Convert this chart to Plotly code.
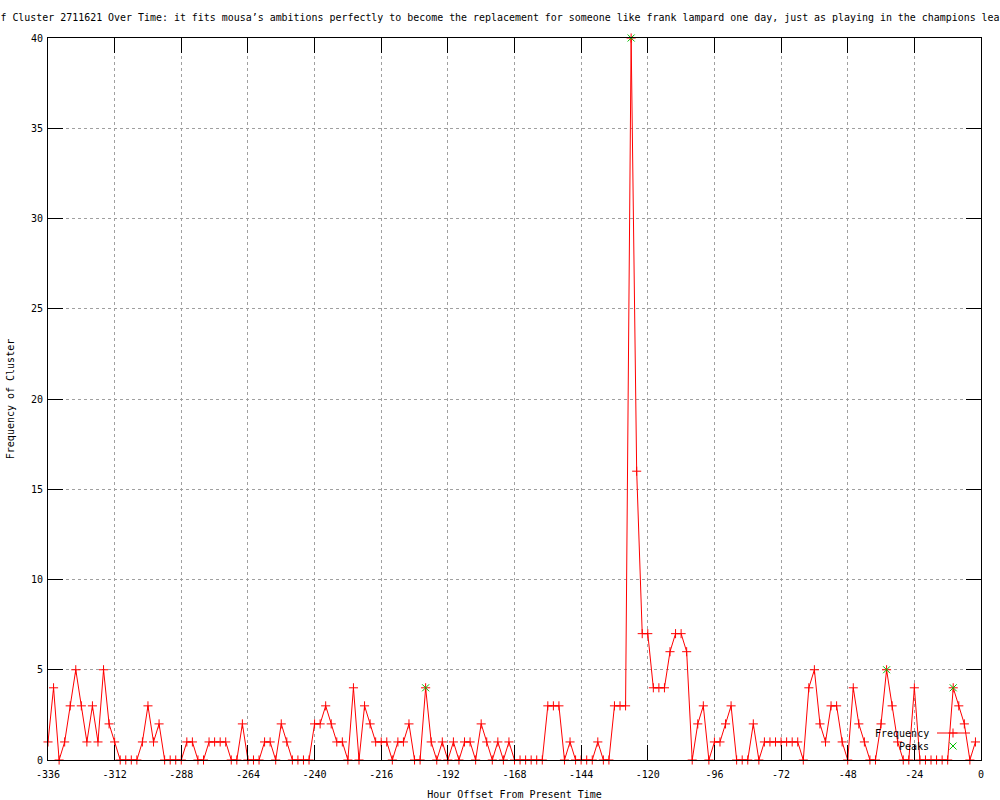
import plotly.graph_objects as go

# ---- data ----
hours = list(range(-336, 0, 2))
frequency = [
    1, 4, 0, 1, 3, 5, 3, 1, 3, 1, 5, 2, 1, 0, 0, 0, 0, 1, 3, 1,   # -336 .. -298
    2, 0, 0, 0, 0, 1, 1, 0, 0, 1, 1, 1, 1, 0, 0, 2, 0, 0, 0, 1,   # -296 .. -258
    1, 0, 2, 1, 0, 0, 0, 0, 2, 2, 3, 2, 1, 1, 0, 4, 0, 3, 2, 1,   # -256 .. -218
    1, 1, 0, 1, 1, 2, 0, 0, 4, 1, 0, 1, 0, 1, 0, 1, 1, 0, 2, 1,   # -216 .. -178
    0, 1, 0, 1, 0, 0, 0, 0, 0, 0, 3, 3, 3, 0, 1, 0, 0, 0, 0, 1,   # -176 .. -138
    0, 0, 3, 3, 3, 40, 16, 7, 7, 4, 4, 4, 6, 7, 7, 6, 0, 2, 3, 0,  # -136 .. -98
    1, 1, 2, 3, 0, 0, 0, 2, 0, 1, 1, 1, 1, 1, 1, 1, 0, 4, 5, 2,   # -96 .. -58
    1, 3, 3, 1, 0, 4, 2, 1, 0, 0, 2, 5, 3, 1, 0, 0, 4, 0, 0, 0,   # -56 .. -18
    0, 0, 0, 4, 3, 2, 0, 1,                                       # -16 .. -2
]
peak_hours = [-200, -126, -34, -10]
peak_values = [4, 40, 5, 4]

x_ticks = list(range(-336, 1, 24))
y_ticks = list(range(0, 41, 5))

title_text = ("f Cluster 2711621 Over Time: it fits mousa\u2019s ambitions perfectly to become "
              "the replacement for someone like frank lampard one day, just as playing in the champions lea")
x_title = "Hour Offset From Present Time"
y_title = "Frequency of Cluster"
legend_names = ["Frequency", "Peaks"]

RED = "#ff0000"
GREEN = "#00c000"
FONT = "DejaVu Sans Mono"

fig = go.Figure()
fig.add_trace(go.Scatter(
    x=hours, y=frequency, mode="lines+markers", name=legend_names[0],
    line=dict(color=RED, width=1),
    marker=dict(symbol="cross-thin", size=6.5, line=dict(color=RED, width=1), color=RED),
    cliponaxis=False, showlegend=False,
))
fig.add_trace(go.Scatter(
    x=peak_hours, y=peak_values, mode="markers", name=legend_names[1],
    marker=dict(symbol="x-thin", size=7, line=dict(color=GREEN, width=1), color=GREEN),
    cliponaxis=False, showlegend=False,
))

L, R, T, B = 48, 19, 38, 40
W, H = 1000, 800
pw, ph = W - L - R, H - T - B


def px(xp):
    return (xp - L) / pw


def py(yp):
    return (H - B - yp) / ph


# legend drawn gnuplot-style (text left of key)
shapes = [
    dict(type="line", xref="paper", yref="paper", x0=px(937), x1=px(970), y0=py(733), y1=py(733),
         line=dict(color=RED, width=1)),
    dict(type="line", xref="paper", yref="paper", x0=px(948.5), x1=px(957.5), y0=py(733), y1=py(733),
         line=dict(color=RED, width=1)),
    dict(type="line", xref="paper", yref="paper", x0=px(953), x1=px(953), y0=py(728.5), y1=py(737.5),
         line=dict(color=RED, width=1)),
    dict(type="line", xref="paper", yref="paper", x0=px(949.5), x1=px(956.5), y0=py(742.5), y1=py(749.5),
         line=dict(color=GREEN, width=1)),
    dict(type="line", xref="paper", yref="paper", x0=px(949.5), x1=px(956.5), y0=py(749.5), y1=py(742.5),
         line=dict(color=GREEN, width=1)),
]
annotations = [
    dict(text=legend_names[0], xref="paper", yref="paper", x=px(931), y=py(733),
         xanchor="right", yanchor="middle", showarrow=False, font=dict(family=FONT, size=10, color="black")),
    dict(text=legend_names[1], xref="paper", yref="paper", x=px(931), y=py(746),
         xanchor="right", yanchor="middle", showarrow=False, font=dict(family=FONT, size=10, color="black")),
]

axis_common = dict(
    showline=True, linecolor="black", linewidth=1, mirror="ticks",
    ticks="inside", ticklen=15, tickcolor="black", tickwidth=1,
    showgrid=True, gridcolor="#a0a0a0", griddash="dot", gridwidth=1,
    zeroline=False, automargin=False,
    tickfont=dict(family=FONT, size=10, color="black"),
)

fig.update_layout(
    width=W, height=H,
    margin=dict(l=L, r=R, t=T, b=B, autoexpand=False),
    paper_bgcolor="white", plot_bgcolor="white",
    title=dict(text=title_text, x=0.5, xanchor="center", xref="container",
               y=1 - 18 / H, yref="container", yanchor="middle",
               font=dict(family=FONT, size=9.95, color="black"), automargin=False),
    xaxis=dict(range=[-336, 0], tickvals=x_ticks, ticktext=[str(v) for v in x_ticks],
               ticklabelstandoff=5,
               title=dict(text=x_title, font=dict(family=FONT, size=10, color="black"), standoff=14),
               **axis_common),
    yaxis=dict(range=[0, 40], tickvals=y_ticks, ticktext=[str(v) for v in y_ticks],
               ticklabelstandoff=2,
               title=dict(text=y_title, font=dict(family=FONT, size=10, color="black"), standoff=14),
               **axis_common),
    shapes=shapes, annotations=annotations,
    showlegend=False,
)

fig.write_html("out.html", config={"displayModeBar": False},
               post_script="document.body.style.margin='0px';document.body.style.overflow='hidden';")
